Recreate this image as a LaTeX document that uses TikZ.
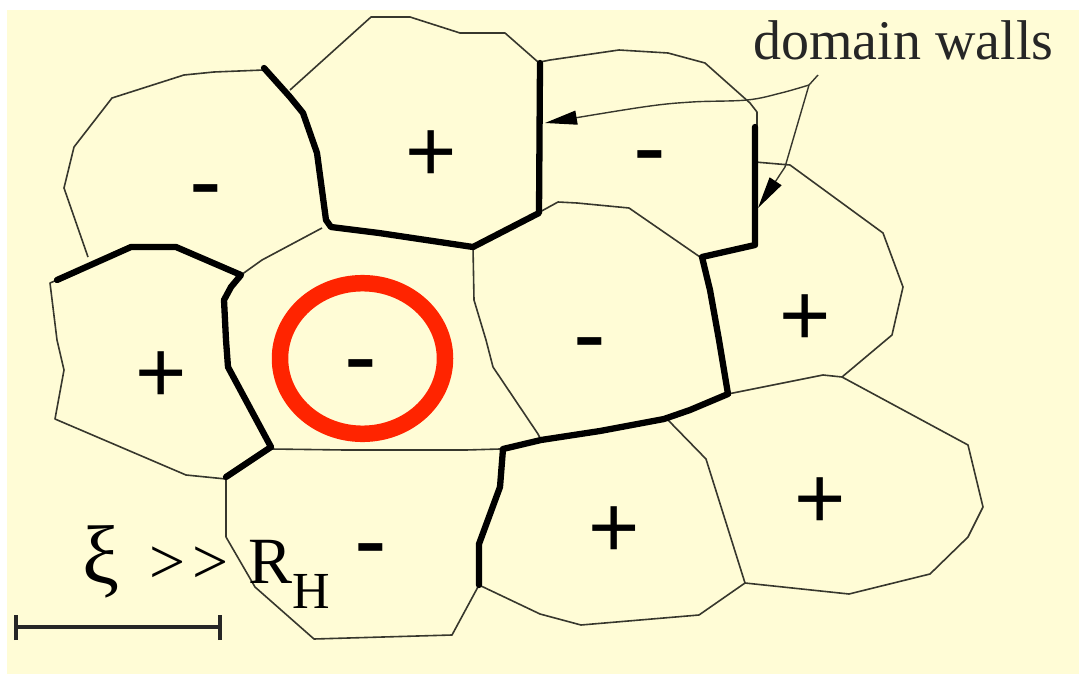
\documentclass[tikz,border=0pt]{standalone}
\usepackage{fontspec}
\setmainfont{Liberation Serif}
\newfontfamily\serifface{Liberation Serif}
\newfontfamily\signfont{Liberation Sans}
\usetikzlibrary{arrows.meta}
\definecolor{bgyellow}{RGB}{255,252,214}
\definecolor{ringred}{RGB}{255,36,0}
\definecolor{thinline}{RGB}{55,55,45}
\tikzset{
  thin wall/.style={draw=thinline, line width=1.6pt, line join=round},
  thick wall/.style={draw=black, line width=6.3pt, line join=round, line cap=round},
  plus sign/.style={anchor=base, inner sep=0pt, font=\signfont\fontsize{88}{88}\selectfont},
  minus sign/.style={anchor=base, inner sep=0pt, font=\signfont\fontsize{98}{98}\selectfont},
  leader/.style={draw=thinline, line width=1.4pt},
  tipstyle/.style={-{Triangle[length=32pt,width=14pt,color=black,fill=black]}},
  bar/.style={color=black!85}
}
\begin{document}
\begin{tikzpicture}[x=1pt,y=-1pt]
\useasboundingbox (0,0) rectangle (1079,674);
\fill[bgyellow] (7,10) rectangle (1079,674);

% thin cell boundaries
\draw[thin wall] (264,70) -- (214,72) -- (184,75) -- (112,98) -- (74,147) -- (64,188) -- (88,257);
\draw[thin wall] (290,90) -- (371,17) -- (410,17) -- (460,33) -- (505,33) -- (538,62);
\draw[thin wall] (241,275) -- (262,260) -- (322,228);
\draw[thin wall] (473,247) -- (474,300) -- (486,340) -- (493,367) -- (538,434) -- (541,440);
\draw[thin wall] (57,280) -- (50,283) -- (57,340) -- (64,370) -- (55,419) -- (186,475) -- (226,479);
\draw[thin wall] (271,449) -- (345,450) -- (466,450) -- (500,449);
\draw[thin wall] (226,479) -- (226,537) -- (255,587) -- (314,639) -- (452,635) -- (479,585);
\draw[thin wall] (479,585) -- (540,614) -- (581,625) -- (699,615) -- (745,583);
\draw[thin wall] (668,420) -- (706,459) -- (745,583);
\draw[thin wall] (728,394) -- (823,375) -- (842,377) -- (968,445) -- (983,507) -- (968,537) -- (930,574) -- (849,594) -- (745,583);
\draw[thin wall] (755,162) -- (790,165) -- (883,233) -- (903,287) -- (892,335) -- (842,377);
\draw[thin wall] (540,62) -- (550,60) -- (619,50) -- (668,53) -- (705,63) -- (750,103) -- (757,112) -- (757,127);
\draw[thin wall] (538,213) -- (558,202) -- (577,203) -- (629,208) -- (700,257);

% thick domain walls
\draw[thick wall] (264,68) -- (290,97) -- (303,113) -- (317,153) -- (326,220) -- (331,227) -- (379,233) -- (473,247) -- (539,213) -- (540,63);
\draw[thick wall] (57,280) -- (131,247) -- (176,247) -- (241,275) -- (231,287) -- (224,300) -- (226,340) -- (228,367) -- (271,447) -- (226,477);
\draw[thick wall] (755,127) -- (755,245) -- (702,257) -- (710,290) -- (719,340) -- (728,394) -- (690,410) -- (664,419) -- (600,431) -- (541,440) -- (503,449) -- (500,487) -- (479,544) -- (479,585);

% signs
\node[minus sign] (s1) at (206,214) {-};
\node[plus sign] (s2) at (431,182) {+};
\node[minus sign] (s3) at (650,180) {-};
\node[plus sign] (s4) at (161,402) {+};
\node[minus sign] (s5) at (361,389) {-};
\node[minus sign] (s6) at (590,367) {-};
\node[plus sign] (s7) at (805,345) {+};
\node[minus sign] (s8) at (371,573) {-};
\node[plus sign] (s9) at (614,557) {+};
\node[plus sign] (s10) at (820,528) {+};

% red ring
\draw[ringred, line width=16.5pt] (362.5,358.5) ellipse [x radius=82.5, y radius=75.3];

% label and leaders
\node[anchor=base west, inner sep=0pt, text=black!85, font=\serifface\fontsize{56}{56}\selectfont] (dw) at (753,60) {domain walls};
\coordinate (top) at (818,75);
\coordinate (split) at (809,85);
\coordinate (tipA) at (545,123);
\coordinate (tipB) at (758,208);
\draw[leader] (top) -- (split);
\draw[leader, tipstyle] plot[smooth, tension=0.6] coordinates {(split) (781,93) (747,100) (692,102) (643,107) (tipA)};
\draw[leader, tipstyle] (split) -- (785,167) -- (tipB);

% scale bar
\coordinate (barL) at (16,627);
\coordinate (barR) at (220,627);
\draw[bar, line width=3.5pt] (barL) -- (barR);
\draw[bar, line width=4pt] ([yshift=-13pt]barL) -- ([yshift=12pt]barL);
\draw[bar, line width=4pt] ([yshift=-13pt]barR) -- ([yshift=12pt]barR);
\node[anchor=base west, inner sep=0pt, font=\serifface\fontsize{83}{83}\selectfont] (xi) at (82,583) {ξ};
\node[anchor=base west, inner sep=0pt, font=\serifface\fontsize{64}{64}\selectfont] (gg) at (149,583) {>\kern7pt>};
\node[anchor=base west, inner sep=0pt, font=\serifface\fontsize{66}{66}\selectfont] (rh) at (248,583) {R\raisebox{-25pt}{\fontsize{52}{52}\selectfont H}};
\end{tikzpicture}
\end{document}
